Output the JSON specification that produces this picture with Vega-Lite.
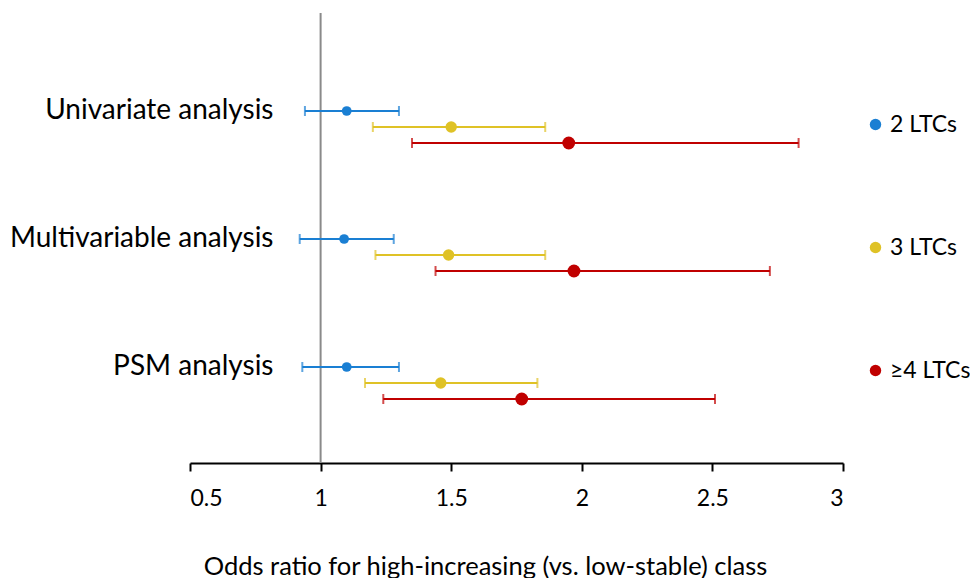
{
  "$schema": "https://vega.github.io/schema/vega-lite/v6.json",
  "autosize": {"type": "none"},
  "width": 653,
  "height": 450,
  "padding": {"left": 190, "top": 13, "right": 127, "bottom": 115},
  "config": {"view": {"stroke": null}, "font": "Lato"},
  "data": {"values": [
    {"analysis": "Univariate analysis", "group": "2 LTCs", "or": 1.10, "lo": 0.94, "hi": 1.30},
    {"analysis": "Univariate analysis", "group": "3 LTCs", "or": 1.50, "lo": 1.20, "hi": 1.86},
    {"analysis": "Univariate analysis", "group": "≥4 LTCs", "or": 1.95, "lo": 1.35, "hi": 2.83},
    {"analysis": "Multivariable analysis", "group": "2 LTCs", "or": 1.09, "lo": 0.92, "hi": 1.28},
    {"analysis": "Multivariable analysis", "group": "3 LTCs", "or": 1.49, "lo": 1.21, "hi": 1.86},
    {"analysis": "Multivariable analysis", "group": "≥4 LTCs", "or": 1.97, "lo": 1.44, "hi": 2.72},
    {"analysis": "PSM analysis", "group": "2 LTCs", "or": 1.10, "lo": 0.93, "hi": 1.30},
    {"analysis": "PSM analysis", "group": "3 LTCs", "or": 1.46, "lo": 1.17, "hi": 1.83},
    {"analysis": "PSM analysis", "group": "≥4 LTCs", "or": 1.77, "lo": 1.24, "hi": 2.51}
  ]},
  "layer": [
    {
      "data": {"values": [{"ref": 1}]},
      "mark": {"type": "rule", "color": "#8a8a8a", "strokeWidth": 2},
      "encoding": {"x": {"field": "ref", "type": "quantitative"}}
    },
    {
      "encoding": {
        "y": {
          "field": "analysis", "type": "nominal",
          "sort": ["Univariate analysis", "Multivariable analysis", "PSM analysis"],
          "scale": {"range": [50, 434], "paddingInner": 0, "paddingOuter": 0},
          "axis": {"title": null, "domain": false, "ticks": false, "labelPadding": -83, "labelOffset": -16, "labelFontSize": 28, "labelColor": "#000000", "labelBaseline": "middle", "labelLimit": 400}
        },
        "yOffset": {"field": "group", "type": "nominal", "sort": ["2 LTCs", "3 LTCs", "≥4 LTCs"], "scale": {"range": [40, 88], "paddingInner": 0, "paddingOuter": 0}}
      },
      "layer": [
        {
          "mark": {"type": "rule", "strokeWidth": 2},
          "encoding": {
            "x": {"field": "lo", "type": "quantitative", "scale": {"domain": [0.5, 3], "nice": false, "zero": false},
              "axis": {"values": [0.5, 1, 1.5, 2, 2.5, 3], "format": "~g", "grid": false, "domainColor": "#000000", "domainWidth": 2, "tickColor": "#000000", "tickWidth": 2, "tickSize": 8, "labelFontSize": 23, "labelColor": "#000000", "labelPadding": 16, "title": "Odds ratio for high-increasing (vs. low-stable) class", "titleFontSize": 25.5, "titleFontWeight": "normal", "titleColor": "#000000", "titlePadding": 44, "titleX": 295, "titleAnchor": "middle", "titleAlign": "center"}},
            "x2": {"field": "hi"},
            "stroke": {"field": "group", "type": "nominal", "sort": ["2 LTCs", "3 LTCs", "≥4 LTCs"], "scale": {"range": ["#1a7fd3", "#dfc226", "#c00000"]}, "legend": null}
          }
        },
        {
          "mark": {"type": "tick", "filled": false, "thickness": 0.01, "strokeWidth": 2, "size": 8},
          "encoding": {
            "x": {"field": "lo", "type": "quantitative"},
            "stroke": {"field": "group", "type": "nominal", "sort": ["2 LTCs", "3 LTCs", "≥4 LTCs"], "legend": null}
          }
        },
        {
          "mark": {"type": "tick", "filled": false, "thickness": 0.01, "strokeWidth": 2, "size": 8},
          "encoding": {
            "x": {"field": "hi", "type": "quantitative"},
            "stroke": {"field": "group", "type": "nominal", "sort": ["2 LTCs", "3 LTCs", "≥4 LTCs"], "legend": null}
          }
        },
        {
          "mark": {"type": "point", "filled": true, "opacity": 1, "shape": "circle", "strokeWidth": 0},
          "encoding": {
            "x": {"field": "or", "type": "quantitative"},
            "fill": {"field": "group", "type": "nominal", "sort": ["2 LTCs", "3 LTCs", "≥4 LTCs"], "scale": {"range": ["#1a7fd3", "#dfc226", "#c00000"]},
              "legend": {"title": null, "orient": "none", "legendX": 674, "legendY": 100, "padding": 0, "rowPadding": 99, "labelFontSize": 23, "labelColor": "#000000", "labelOffset": 3, "symbolStrokeWidth": 0, "symbolType": "circle", "symbolSize": 130}},
            "size": {"field": "group", "type": "nominal", "sort": ["2 LTCs", "3 LTCs", "≥4 LTCs"], "scale": {"range": [95, 165, 250]}, "legend": null}
          }
        }
      ]
    }
  ]
}
